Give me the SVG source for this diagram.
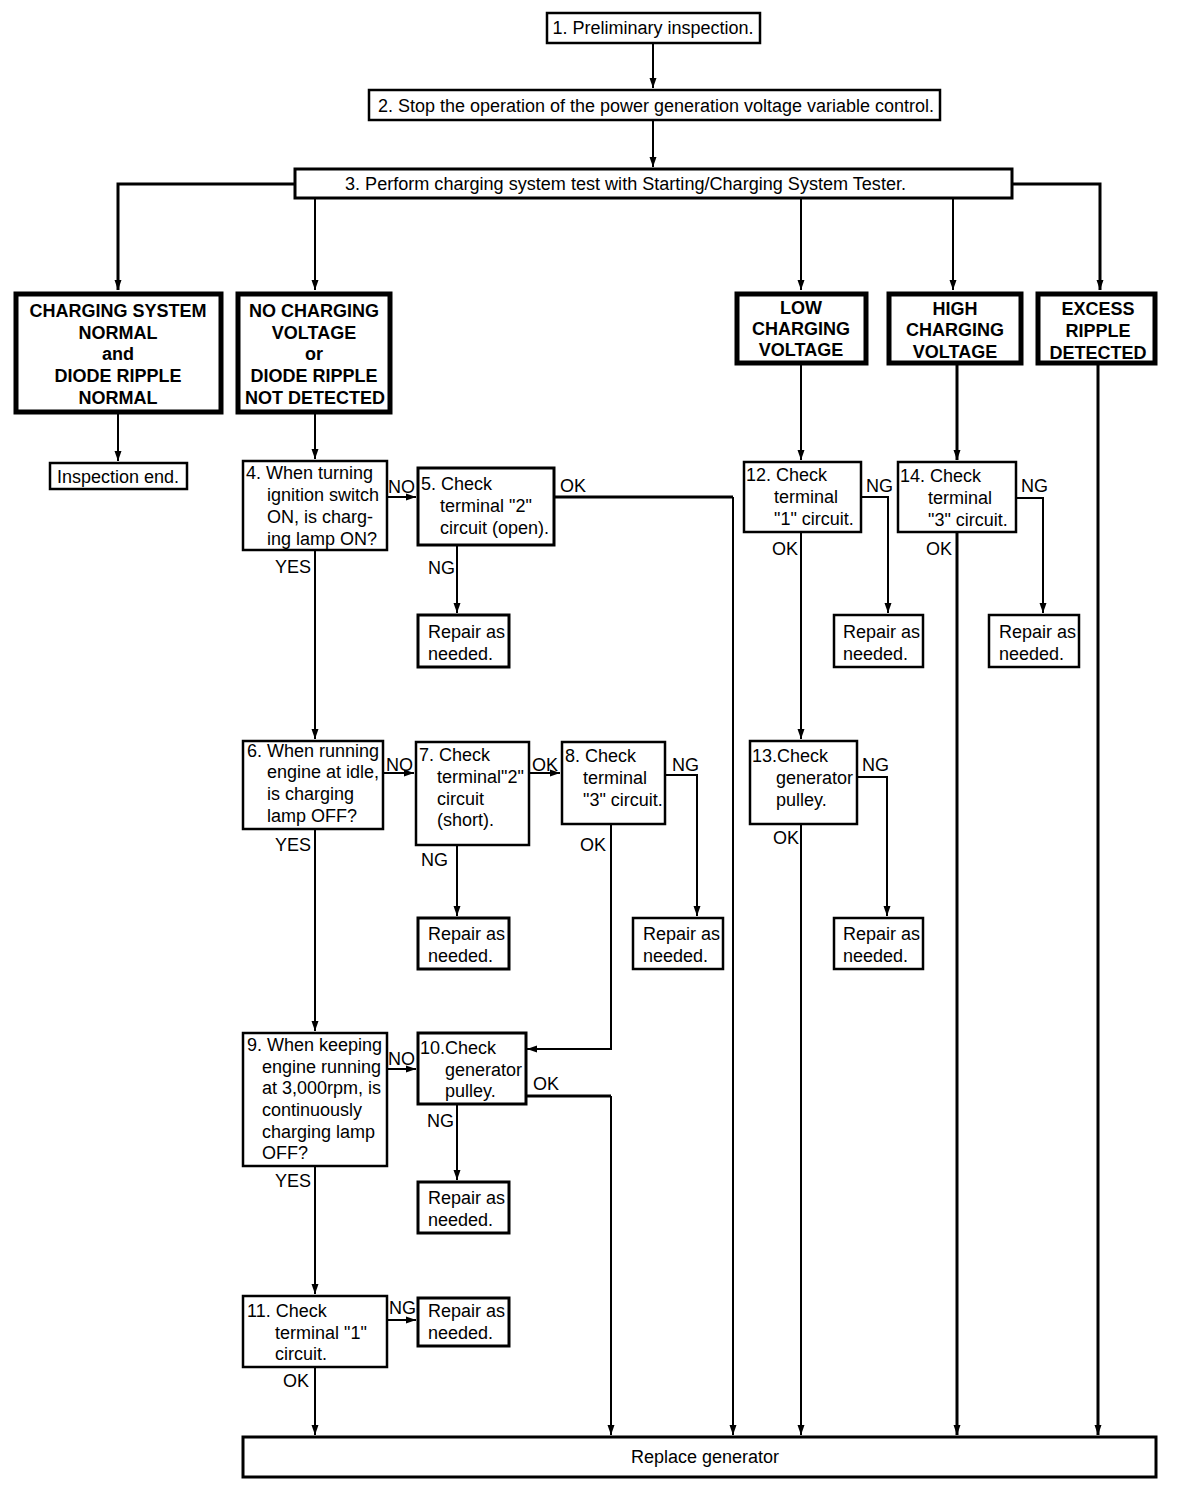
<svg xmlns="http://www.w3.org/2000/svg" width="1184" height="1494" viewBox="0 0 1184 1494">
<style>
text{font-family:"Liberation Sans",Arial,sans-serif;font-size:18px;fill:#000}
.h{font-weight:bold;font-size:18px;text-anchor:middle}
.c{text-anchor:middle}
.box{fill:#fff;stroke:#000;stroke-width:2.5}
.tbox{fill:#fff;stroke:#000;stroke-width:3}
.hbox{fill:#fff;stroke:#000;stroke-width:5}
.ln{fill:none;stroke:#000;stroke-width:2}
.tk{fill:none;stroke:#000;stroke-width:3}
</style>
<defs>
<marker id="ar" viewBox="0 0 10 8" refX="10" refY="4" markerWidth="10" markerHeight="8" markerUnits="userSpaceOnUse" orient="auto">
<path d="M0,0.5 L10,4 L0,7.5 z" fill="#000"/>
</marker>
</defs>
<rect width="1184" height="1494" fill="#fff"/>

<g id="connectors">
<path class="ln" d="M653,43 V88" marker-end="url(#ar)"/>
<path class="ln" d="M653,120 V167" marker-end="url(#ar)"/>
<path class="tk" d="M294,184 H118 V290" marker-end="url(#ar)"/>
<path class="ln" d="M315,198 V290" marker-end="url(#ar)"/>
<path class="ln" d="M801,198 V290" marker-end="url(#ar)"/>
<path class="ln" d="M953,198 V290" marker-end="url(#ar)"/>
<path class="tk" d="M1013,184 H1100 V290" marker-end="url(#ar)"/>
<path class="ln" d="M118,414 V461" marker-end="url(#ar)"/>
<path class="ln" d="M315,414 V459" marker-end="url(#ar)"/>
<path class="ln" d="M387,497 H416" marker-end="url(#ar)"/>
<path class="tk" d="M554,497 H733"/>
<path class="ln" d="M733,497 V1435" marker-end="url(#ar)"/>
<path class="ln" d="M457,545 V613" marker-end="url(#ar)"/>
<path class="ln" d="M315,550 V739" marker-end="url(#ar)"/>
<path class="ln" d="M383,773 H414" marker-end="url(#ar)"/>
<path class="ln" d="M529,773 H560" marker-end="url(#ar)"/>
<path class="ln" d="M665,775 H697 V916" marker-end="url(#ar)"/>
<path class="ln" d="M457,845 V916" marker-end="url(#ar)"/>
<path class="ln" d="M611,824 V1049 H527" marker-end="url(#ar)"/>
<path class="ln" d="M315,829 V1031" marker-end="url(#ar)"/>
<path class="ln" d="M387,1069 H416" marker-end="url(#ar)"/>
<path class="tk" d="M526,1096 H611"/>
<path class="ln" d="M611,1096 V1435" marker-end="url(#ar)"/>
<path class="ln" d="M457,1104 V1180" marker-end="url(#ar)"/>
<path class="ln" d="M315,1166 V1294" marker-end="url(#ar)"/>
<path class="ln" d="M387,1320 H416" marker-end="url(#ar)"/>
<path class="ln" d="M315,1367 V1435" marker-end="url(#ar)"/>
<path class="ln" d="M801,365 V460" marker-end="url(#ar)"/>
<path class="ln" d="M861,497 H888 V613" marker-end="url(#ar)"/>
<path class="ln" d="M801,532 V739" marker-end="url(#ar)"/>
<path class="ln" d="M857,777 H887 V916" marker-end="url(#ar)"/>
<path class="ln" d="M801,824 V1435" marker-end="url(#ar)"/>
<path class="tk" d="M957,365 V460" marker-end="url(#ar)"/>
<path class="ln" d="M1016,498 H1043 V613" marker-end="url(#ar)"/>
<path class="tk" d="M957,532 V1435" marker-end="url(#ar)"/>
<path class="tk" d="M1098,365 V1435" marker-end="url(#ar)"/>
<text x="388" y="493">NO</text>
<text x="560" y="492">OK</text>
<text x="428" y="574">NG</text>
<text x="275" y="573">YES</text>
<text x="386" y="771">NO</text>
<text x="532" y="771">OK</text>
<text x="672" y="771">NG</text>
<text x="421" y="866">NG</text>
<text x="580" y="851">OK</text>
<text x="275" y="851">YES</text>
<text x="388" y="1065">NO</text>
<text x="533" y="1090">OK</text>
<text x="427" y="1127">NG</text>
<text x="275" y="1187">YES</text>
<text x="389" y="1314">NG</text>
<text x="283" y="1387">OK</text>
<text x="866" y="492">NG</text>
<text x="772" y="555">OK</text>
<text x="862" y="771">NG</text>
<text x="773" y="844">OK</text>
<text x="1021" y="492">NG</text>
<text x="926" y="555">OK</text>
</g>

<g id="n1"><rect class="box" x="547" y="13" width="213" height="30"/><text x="653" y="34" class="c">1. Preliminary inspection.</text></g>
<g id="n2"><rect class="box" x="369" y="90" width="571" height="30"/><text x="378" y="112" textLength="556" lengthAdjust="spacingAndGlyphs">2. Stop the operation of the power generation voltage variable control.</text></g>
<g id="n3"><rect class="tbox" x="295" y="169" width="717" height="29"/><text x="345" y="190" textLength="561" lengthAdjust="spacingAndGlyphs">3. Perform charging system test with Starting/Charging System Tester.</text></g>

<g id="hA"><rect class="hbox" x="16" y="294" width="205" height="118"/>
<text class="h" x="118" y="317">CHARGING SYSTEM</text><text class="h" x="118" y="339">NORMAL</text><text class="h" x="118" y="360">and</text><text class="h" x="118" y="382">DIODE RIPPLE</text><text class="h" x="118" y="404">NORMAL</text></g>
<g id="hB"><rect class="hbox" x="238" y="294" width="152" height="118"/>
<text class="h" x="314" y="317">NO CHARGING</text><text class="h" x="314" y="339">VOLTAGE</text><text class="h" x="314" y="360">or</text><text class="h" x="314" y="382">DIODE RIPPLE</text><text class="h" x="315" y="404">NOT DETECTED</text></g>
<g id="hC"><rect class="hbox" x="737" y="294" width="129" height="69"/>
<text class="h" x="801" y="314">LOW</text><text class="h" x="801" y="335">CHARGING</text><text class="h" x="801" y="356">VOLTAGE</text></g>
<g id="hD"><rect class="hbox" x="889" y="294" width="132" height="69"/>
<text class="h" x="955" y="315">HIGH</text><text class="h" x="955" y="336">CHARGING</text><text class="h" x="955" y="358">VOLTAGE</text></g>
<g id="hE"><rect class="hbox" x="1038" y="294" width="117" height="69"/>
<text class="h" x="1098" y="315">EXCESS</text><text class="h" x="1098" y="337">RIPPLE</text><text class="h" x="1098" y="359">DETECTED</text></g>

<g id="end"><rect class="box" x="50" y="463" width="137" height="26"/><text class="c" x="118" y="483">Inspection end.</text></g>

<g id="n4"><rect class="box" x="243" y="461" width="144" height="89"/>
<text x="246" y="479">4. When turning</text><text x="267" y="501">ignition switch</text><text x="267" y="523">ON, is charg-</text><text x="267" y="545">ing lamp ON?</text></g>
<g id="n5"><rect class="tbox" x="418" y="468" width="136" height="77"/>
<text x="421" y="490">5. Check</text><text x="440" y="512">terminal "2"</text><text x="440" y="534">circuit (open).</text></g>
<g id="r5"><rect class="tbox" x="418" y="615" width="91" height="52"/><text x="428" y="638">Repair as</text><text x="428" y="660">needed.</text></g>

<g id="n6"><rect class="box" x="243" y="741" width="140" height="88"/>
<text x="247" y="757">6. When running</text><text x="267" y="778">engine at idle,</text><text x="267" y="800">is charging</text><text x="267" y="822">lamp OFF?</text></g>
<g id="n7"><rect class="box" x="416" y="742" width="113" height="103"/>
<text x="419" y="761">7. Check</text><text x="437" y="783">terminal"2"</text><text x="437" y="805">circuit</text><text x="437" y="826">(short).</text></g>
<g id="n8"><rect class="box" x="562" y="742" width="103" height="82"/>
<text x="565" y="762">8. Check</text><text x="583" y="784">terminal</text><text x="583" y="806">"3" circuit.</text></g>
<g id="r7"><rect class="tbox" x="418" y="918" width="91" height="51"/><text x="428" y="940">Repair as</text><text x="428" y="962">needed.</text></g>
<g id="r8"><rect class="box" x="633" y="918" width="90" height="51"/><text x="643" y="940">Repair as</text><text x="643" y="962">needed.</text></g>

<g id="n9"><rect class="box" x="243" y="1033" width="144" height="133"/>
<text x="247" y="1051">9. When keeping</text><text x="262" y="1073">engine running</text><text x="262" y="1094">at 3,000rpm, is</text><text x="262" y="1116">continuously</text><text x="262" y="1138">charging lamp</text><text x="262" y="1159">OFF?</text></g>
<g id="n10"><rect class="tbox" x="418" y="1033" width="108" height="71"/>
<text x="420" y="1054">10.Check</text><text x="445" y="1076">generator</text><text x="445" y="1097">pulley.</text></g>
<g id="r10"><rect class="tbox" x="418" y="1182" width="91" height="51"/><text x="428" y="1204">Repair as</text><text x="428" y="1226">needed.</text></g>

<g id="n11"><rect class="box" x="243" y="1296" width="144" height="71"/>
<text x="247" y="1317">11. Check</text><text x="275" y="1339">terminal "1"</text><text x="275" y="1360">circuit.</text></g>
<g id="r11"><rect class="tbox" x="418" y="1298" width="91" height="48"/><text x="428" y="1317">Repair as</text><text x="428" y="1339">needed.</text></g>

<g id="n12"><rect class="box" x="744" y="462" width="117" height="70"/>
<text x="746" y="481">12. Check</text><text x="774" y="503">terminal</text><text x="774" y="525">"1" circuit.</text></g>
<g id="r12"><rect class="box" x="834" y="615" width="89" height="52"/><text x="843" y="638">Repair as</text><text x="843" y="660">needed.</text></g>
<g id="n13"><rect class="box" x="750" y="741" width="107" height="83"/>
<text x="752" y="762">13.Check</text><text x="776" y="784">generator</text><text x="776" y="806">pulley.</text></g>
<g id="r13"><rect class="box" x="834" y="918" width="89" height="51"/><text x="843" y="940">Repair as</text><text x="843" y="962">needed.</text></g>

<g id="n14"><rect class="box" x="898" y="462" width="118" height="70"/>
<text x="900" y="482">14. Check</text><text x="928" y="504">terminal</text><text x="928" y="526">"3" circuit.</text></g>
<g id="r14"><rect class="box" x="989" y="615" width="90" height="52"/><text x="999" y="638">Repair as</text><text x="999" y="660">needed.</text></g>

<g id="replace"><rect class="tbox" x="243" y="1437" width="913" height="40"/><text x="631" y="1463">Replace generator</text></g>
</svg>
